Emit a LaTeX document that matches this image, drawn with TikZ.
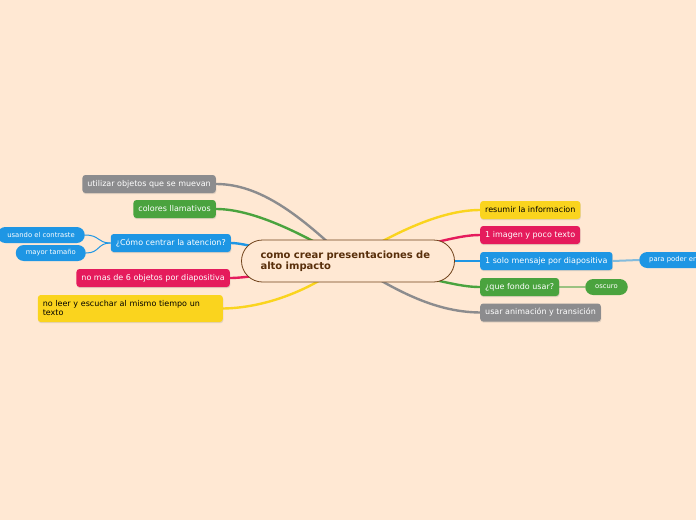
\documentclass[tikz,border=0pt]{standalone}
\usepackage{fontspec}
\setmainfont{DejaVu Sans}
\usetikzlibrary{positioning,shadows,backgrounds}
\definecolor{mapbg}{RGB}{255,232,211}
\definecolor{mapbrown}{RGB}{112,66,26}
\definecolor{maptext}{RGB}{88,46,10}
\definecolor{mapyellow}{RGB}{250,212,30}
\definecolor{mapred}{RGB}{229,27,92}
\definecolor{mapblue}{RGB}{30,150,228}
\definecolor{mapgreen}{RGB}{74,163,62}
\definecolor{mapgray}{RGB}{140,140,142}
\tikzset{
  topic/.style={rounded corners=3pt, minimum height=18pt, inner xsep=5pt, inner ysep=2pt, font=\fontsize{8}{9.5}\selectfont, text=white, drop shadow={shadow xshift=0.5pt, shadow yshift=-1.2pt, opacity=0.22}},
  subtopic/.style={rounded corners=8pt, minimum height=16pt, inner xsep=10pt, inner ysep=1pt, font=\fontsize{6.8}{8}\selectfont, text=white, fill=#1},
  branch/.style={draw=#1, line width=2.4pt, line cap=round},
  twig/.style={draw=#1, line width=1pt},
}
\begin{document}
\begin{tikzpicture}[x=1pt,y=-1pt]
  \begin{scope}[on background layer]
    \fill[mapbg] (0,0) rectangle (696,520);
  \end{scope}
  \useasboundingbox (0,0) rectangle (696,520);

  \node[draw=mapbrown, line width=0.8pt, fill=mapbg, rounded corners=21pt, minimum width=213pt, minimum height=42pt, text width=175pt, align=left, font=\bfseries\fontsize{10}{11.5}\selectfont, text=maptext] (root) at (348,261) {como crear presentaciones de\\alto impacto};

  \node[topic, fill=mapgray, anchor=east] (util) at (216,184) {utilizar objetos que se muevan};
  \node[topic, fill=mapgreen, anchor=east] (colores) at (216,209) {colores llamativos};
  \node[topic, fill=mapblue, anchor=east] (centrar) at (231,243) {¿Cómo centrar la atencion?};
  \node[subtopic=mapblue, anchor=east] (usando) at (85,235) {usando el contraste};
  \node[subtopic=mapblue, anchor=east] (mayor) at (86,253) {mayor tamaño};
  \node[topic, fill=mapred, anchor=east] (nomas) at (230,278) {no mas de 6 objetos por diapositiva};
  \node[topic, fill=mapyellow, text=black, anchor=east, text width=175pt, align=left, minimum height=27pt, font=\fontsize{8}{9}\selectfont] (noleer) at (223,308.5) {no leer y escuchar al mismo tiempo un\\texto};

  \node[topic, fill=mapyellow, text=black, anchor=west] (resumir) at (480,210) {resumir la informacion};
  \node[topic, fill=mapred, anchor=west] (imagen) at (480,235) {1 imagen y poco texto};
  \node[topic, fill=mapblue, anchor=west] (mensaje) at (480,261) {1 solo mensaje por diapositiva};
  \node[subtopic=mapblue, anchor=west, text width=70pt, align=left] (para) at (639,260) {para poder en};
  \node[topic, fill=mapgreen, anchor=west] (fondo) at (480,287) {¿que fondo usar?};
  \node[subtopic=mapgreen, anchor=west] (oscuro) at (585,287) {oscuro};
  \node[topic, fill=mapgray, anchor=west] (animacion) at (480,312.5) {usar animación y transición};

  \begin{scope}[on background layer]
    \draw[branch=mapgray] (root.center) .. controls (300,215) and (260,184) .. (util.east);
    \draw[branch=mapgreen] (root.center) .. controls (300,232) and (252,209) .. (colores.east);
    \draw[branch=mapblue] (root.center) .. controls (280,256) and (248,243) .. (centrar.east);
    \draw[branch=mapred] (root.center) .. controls (280,272) and (248,278) .. (nomas.east);
    \draw[branch=mapyellow] (root.center) .. controls (310,292) and (262,308) .. (noleer.east);
    \draw[branch=mapyellow] (root.center) .. controls (392,234) and (440,210) .. (resumir.west);
    \draw[branch=mapred] (root.center) .. controls (430,246) and (455,235) .. (imagen.west);
    \draw[branch=mapblue] (root.center) .. controls (430,261) and (460,261) .. (mensaje.west);
    \draw[branch=mapgreen] (root.center) .. controls (440,280) and (458,287) .. (fondo.west);
    \draw[branch=mapgray] (root.center) .. controls (392,288) and (432,312) .. (animacion.west);
    \draw[twig=mapblue] (centrar.west) .. controls (97,243) and (100,235) .. (usando.east);
    \draw[twig=mapblue] (centrar.west) .. controls (97,243) and (100,253) .. (mayor.east);
    \draw[twig=mapblue!55!mapbg, line width=2pt] (mensaje.east) -- (para.west);
    \draw[twig=mapgreen!55!mapbg, line width=2pt] (fondo.east) -- (oscuro.west);
  \end{scope}
\end{tikzpicture}
\end{document}
